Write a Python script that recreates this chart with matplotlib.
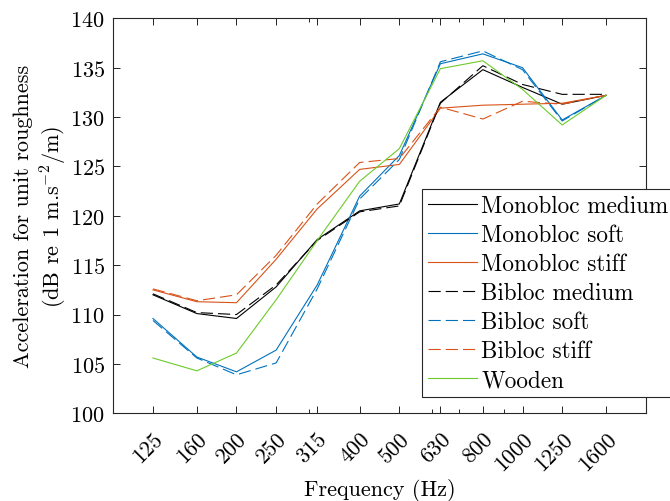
import matplotlib
matplotlib.use("Agg")
import matplotlib.pyplot as plt
from matplotlib.ticker import FixedLocator, NullFormatter, LogLocator

plt.rcParams['font.family'] = ['cmr10', 'DejaVu Serif']
plt.rcParams['mathtext.fontset'] = 'cm'
plt.rcParams['axes.unicode_minus'] = False
plt.rcParams['axes.formatter.use_mathtext'] = True

freqs = [125, 160, 200, 250, 315, 400, 500, 630, 800, 1000, 1250, 1600]
freq_labels = ['125', '160', '200', '250', '315', '400', '500', '630', '800', '1000', '1250', '1600']

mono_medium = [112.0, 110.1, 109.6, 112.8, 117.6, 120.5, 121.2, 131.5, 134.8, 133.0, 131.3, 132.2]
mono_soft = [109.6, 105.7, 104.2, 106.4, 113.0, 122.0, 126.1, 135.4, 136.4, 135.0, 129.7, 132.2]
mono_stiff = [112.5, 111.3, 111.2, 115.6, 120.7, 124.7, 125.2, 130.9, 131.2, 131.3, 131.4, 132.2]
bi_medium = [112.1, 110.2, 110.0, 113.0, 117.5, 120.4, 121.0, 131.4, 135.2, 133.3, 132.3, 132.3]
bi_soft = [109.4, 105.6, 103.9, 105.1, 112.6, 121.7, 125.7, 135.6, 136.7, 134.8, 129.6, 132.2]
bi_stiff = [112.6, 111.4, 112.0, 116.0, 121.2, 125.4, 125.8, 131.0, 129.8, 131.6, 131.3, 132.2]
wooden = [105.6, 104.3, 106.1, 111.5, 117.5, 123.5, 126.8, 134.9, 135.7, 132.8, 129.2, 132.2]

series = [
    ('Monobloc medium', mono_medium, '#000000', '-'),
    ('Monobloc soft', mono_soft, '#0072BD', '-'),
    ('Monobloc stiff', mono_stiff, '#D95319', '-'),
    ('Bibloc medium', bi_medium, '#000000', '--'),
    ('Bibloc soft', bi_soft, '#0072BD', '--'),
    ('Bibloc stiff', bi_stiff, '#D95319', '--'),
    ('Wooden', wooden, '#6CCB2A', '-'),
]

FS = 16
LFS = 16.7

fig = plt.figure(figsize=(6.7, 5.02), dpi=100)
ax = fig.add_axes([113.3 / 670, 1 - 414.3 / 502, (645.7 - 113.3) / 670, (414.3 - 19.3) / 502])

for name, vals, col, ls in series:
    if ls == '--':
        ax.plot(freqs, vals, color=col, linestyle=ls, linewidth=0.8, label=name, dashes=(11, 4.5))
    else:
        ax.plot(freqs, vals, color=col, linestyle=ls, linewidth=0.8, label=name)

ax.set_xscale('log')
ax.set_xlim(100, 2000)
ax.set_ylim(100, 140)
ax.xaxis.set_major_locator(FixedLocator(freqs))
ax.xaxis.set_minor_locator(LogLocator(base=10, subs=(3, 6, 7, 9)))
ax.xaxis.set_minor_formatter(NullFormatter())
ax.set_xticklabels(freq_labels, rotation=45, ha='right', va='top', rotation_mode='anchor')
ax.set_yticks(range(100, 141, 5))

ax.tick_params(which='both', direction='in', top=True, right=True, labelsize=FS, width=0.6)
ax.tick_params(which='major', length=5)
ax.tick_params(which='minor', length=3)
ax.tick_params(axis='x', pad=11)
ax.tick_params(axis='y', pad=6)
for s in ax.spines.values():
    s.set_linewidth(0.8)
    s.set_color('#262626')

ax.set_xlabel('Frequency (Hz)', fontsize=FS, labelpad=3)
ax.set_ylabel('Acceleration for unit roughness\n(dB re 1 m.s$^{-2}$/m)', fontsize=FS, labelpad=1,
              linespacing=1.3)

leg = ax.legend(loc='upper left', bbox_to_anchor=(422 / 670, 1 - 190 / 502),
                bbox_transform=fig.transFigure, fontsize=LFS, frameon=True, fancybox=False,
                edgecolor='#262626', framealpha=1, borderpad=0.25, labelspacing=0.3,
                handlelength=2.1, handletextpad=0.2, borderaxespad=0)
leg.get_frame().set_linewidth(0.8)

fig.savefig('out.png', dpi=100)
